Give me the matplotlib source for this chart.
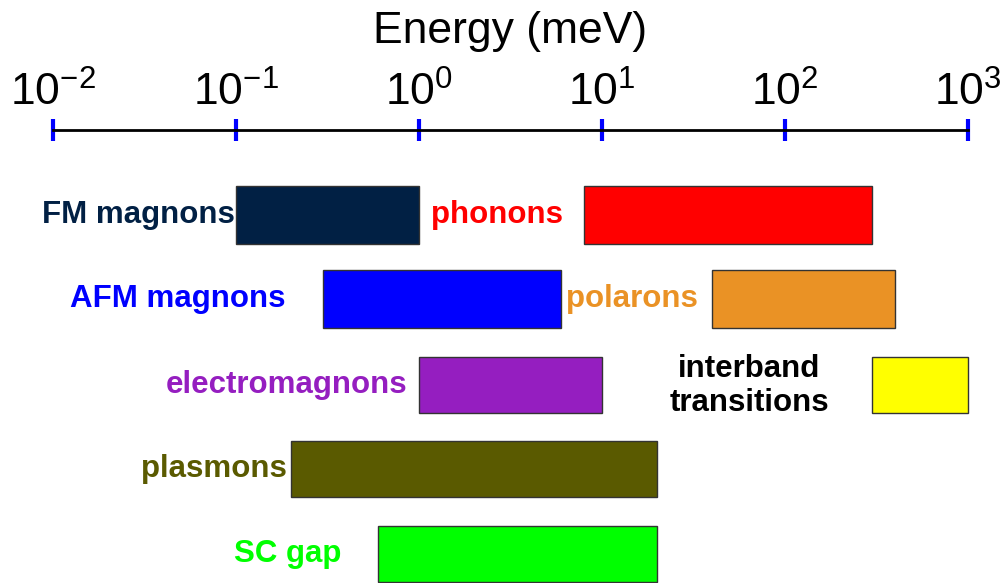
import matplotlib
matplotlib.use('Agg')
import matplotlib.pyplot as plt
from matplotlib.ticker import FixedLocator, NullLocator

plt.rcParams['mathtext.fontset'] = 'custom'
plt.rcParams['mathtext.rm'] = 'Liberation Sans'
plt.rcParams['mathtext.it'] = 'Liberation Sans'
plt.rcParams['font.family'] = ['Liberation Sans', 'DejaVu Sans']

# energy ranges in meV
names = ['FM magnons', 'phonons', 'AFM magnons', 'polarons', 'electromagnons',
         'interband\ntransitions', 'plasmons', 'SC gap']
e_low = [0.1, 8, 0.3, 40, 1, 300, 0.2, 0.6]
e_high = [1, 300, 6, 400, 10, 1000, 20, 20]
rows = [0, 0, 1, 1, 2, 2, 3, 4]
bar_colors = ['#012044', '#ff0000', '#0000ff', '#ea9225', '#951ec0', '#ffff00', '#5a5a00', '#00ff00']
text_colors = ['#012044', '#ff0000', '#0000ff', '#ea9225', '#951ec0', '#000000', '#5a5a00', '#00ff00']
tick_vals = [1e-2, 1e-1, 1e0, 1e1, 1e2, 1e3]

fig = plt.figure(figsize=(10.08, 5.83), dpi=100)
ax = fig.add_axes([0, 0, 1, 1])
ax.set_xscale('log')
dec = 183.0
ax.set_xlim(10 ** (-2 - 53 / dec), 10 ** (-2 + 955 / dec))
ax.set_ylim(583, 0)


def px(x):
    # horizontal pixel position -> energy on the log axis
    return 10 ** (-2 + (x - 53) / dec)


row_y = [215, 299, 385, 469, 554]
row_h = [58, 58, 56, 56, 56]

for n, lo, hi, r, bc, tc in zip(names, e_low, e_high, rows, bar_colors, text_colors):
    ax.barh(row_y[r], hi - lo, left=lo, height=row_h[r], color=bc,
            edgecolor='#333333', linewidth=1, zorder=2)

lbl = dict(fontsize=22.5, fontweight='bold', va='center')
ax.text(0.099, row_y[0], names[0], color=text_colors[0], ha='right', **lbl)
ax.text(px(497), row_y[0], names[1], color=text_colors[1], ha='center', **lbl)
ax.text(px(285), row_y[1], names[2], color=text_colors[2], ha='right', **lbl)
ax.text(px(698), row_y[1], names[3], color=text_colors[3], ha='right', **lbl)
ax.text(px(407), row_y[2], names[4], color=text_colors[4], ha='right', **lbl)
ax.text(px(749), row_y[2] + 1, names[5], color=text_colors[5], ha='center',
        linespacing=1.2, **lbl)
ax.text(px(287), row_y[3], names[6], color=text_colors[6], ha='right', **lbl)
ax.text(px(341), row_y[4], names[7], color=text_colors[7], ha='right', **lbl)

# energy scale drawn as the top spine
for s in ['bottom', 'left', 'right']:
    ax.spines[s].set_visible(False)
ax.spines['top'].set_position(('data', 130))
ax.spines['top'].set_bounds(tick_vals[0], tick_vals[-1])
ax.spines['top'].set_linewidth(2)
ax.spines['top'].set_color('black')
ax.xaxis.set_ticks_position('top')
ax.xaxis.set_major_locator(FixedLocator(tick_vals))
ax.xaxis.set_minor_locator(NullLocator())
ax.set_xticklabels([r'$10^{%d}$' % p for p in range(-2, 4)])
ax.tick_params(axis='x', direction='inout', length=16.5, width=3, color='#0000ff',
               labelsize=32, pad=3)
ax.set_yticks([])
ax.patch.set_alpha(0)

ax.text(px(510), 31, 'Energy (meV)', fontsize=32, ha='center', va='center')

fig.savefig('out.png', dpi=100)
